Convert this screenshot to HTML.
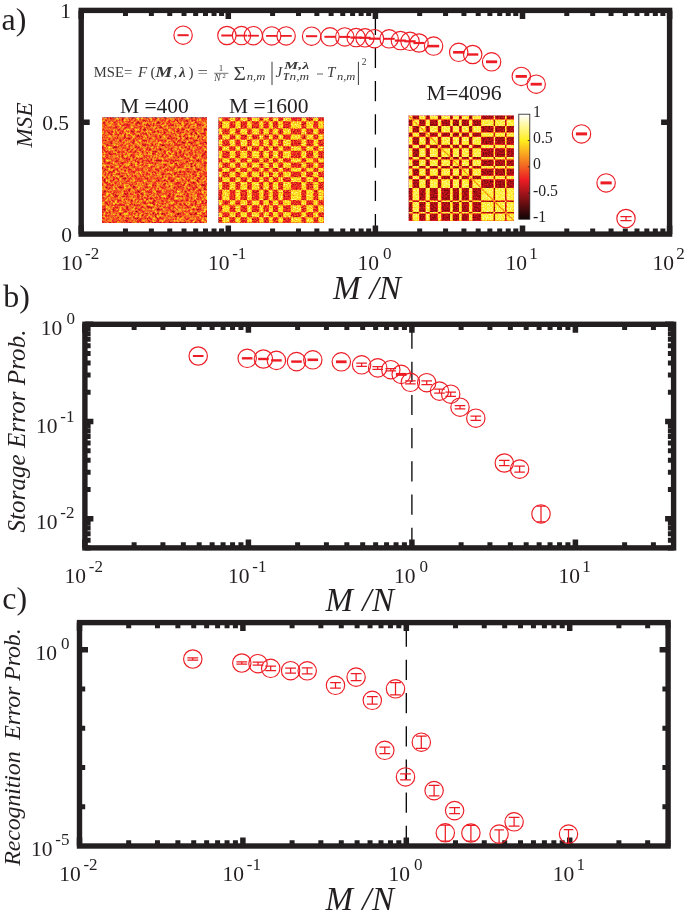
<!DOCTYPE html>
<html><head><meta charset="utf-8"><title>fig</title><style>html,body{margin:0;padding:0;background:#fff}svg{display:block;will-change:transform}text{font-family:"Liberation Serif",serif;fill:#231f20}.i{font-style:italic}.f text{fill:#3a3a3a}</style></head><body>
<svg width="685" height="919" viewBox="0 0 685 919">
<rect width="685" height="919" fill="#fff"/>
<defs>
<filter id="h1" x="0" y="0" width="1" height="1" color-interpolation-filters="sRGB"><feTurbulence type="fractalNoise" baseFrequency="0.45" numOctaves="2" seed="7" result="n"/><feColorMatrix in="n" type="matrix" values="1 0 0 0 0 1 0 0 0 0 1 0 0 0 0 0 0 0 0 1" result="g"/><feComposite in="SourceGraphic" in2="g" operator="arithmetic" k1="0" k2="1" k3="0.7" k4="-0.35" result="s"/><feComponentTransfer in="s" result="c"><feFuncR type="table" tableValues=".06 .36 .66 .93 .96 .98 1 1 1"/><feFuncG type="table" tableValues=".02 .03 .06 .11 .40 .68 .93 .96 1"/><feFuncB type="table" tableValues=".02 .04 .08 .14 .13 .12 .12 .56 1"/></feComponentTransfer><feGaussianBlur stdDeviation="0.45" edgeMode="duplicate"/></filter>
<filter id="h2" x="0" y="0" width="1" height="1" color-interpolation-filters="sRGB"><feTurbulence type="fractalNoise" baseFrequency="0.75" numOctaves="1" seed="11" result="n"/><feColorMatrix in="n" type="matrix" values="1 0 0 0 0 1 0 0 0 0 1 0 0 0 0 0 0 0 0 1" result="g"/><feComposite in="SourceGraphic" in2="g" operator="arithmetic" k1="0" k2="1" k3="0.62" k4="-0.31" result="s"/><feComponentTransfer in="s" result="c"><feFuncR type="table" tableValues=".06 .36 .66 .93 .96 .98 1 1 1"/><feFuncG type="table" tableValues=".02 .03 .06 .11 .40 .68 .93 .96 1"/><feFuncB type="table" tableValues=".02 .04 .08 .14 .13 .12 .12 .56 1"/></feComponentTransfer><feGaussianBlur stdDeviation="0.45" edgeMode="duplicate"/></filter>
<filter id="h3" x="0" y="0" width="1" height="1" color-interpolation-filters="sRGB"><feTurbulence type="fractalNoise" baseFrequency="0.7" numOctaves="1" seed="5" result="n"/><feColorMatrix in="n" type="matrix" values="1 0 0 0 0 1 0 0 0 0 1 0 0 0 0 0 0 0 0 1" result="g"/><feComposite in="SourceGraphic" in2="g" operator="arithmetic" k1="0" k2="1" k3="0.42" k4="-0.21" result="s"/><feComponentTransfer in="s" result="c"><feFuncR type="table" tableValues=".06 .36 .66 .93 .96 .98 1 1 1"/><feFuncG type="table" tableValues=".02 .03 .06 .11 .40 .68 .93 .96 1"/><feFuncB type="table" tableValues=".02 .04 .08 .14 .13 .12 .12 .56 1"/></feComponentTransfer><feGaussianBlur stdDeviation="0.45" edgeMode="duplicate"/></filter>
<linearGradient id="hot" x1="0" y1="1" x2="0" y2="0"><stop offset="0" stop-color="#0f0505"/><stop offset=".375" stop-color="#ed1c24"/><stop offset=".75" stop-color="#ffee1f"/><stop offset="1" stop-color="#fff"/></linearGradient>
</defs>
<path d="M375.40 234.10V10.40" stroke="#000" stroke-width="1.3" stroke-dasharray="20.2 13"/>
<g transform="translate(102.0 117.8)" filter="url(#h1)"><rect width="105" height="105" fill="rgb(137,137,137)"/><path fill-rule="evenodd" d="M0 3.5H105V10.8H0ZM3.5 0V105H10.8V0ZM0 16.6H105V21.6H0ZM16.6 0V105H21.6V0ZM0 28.4H105V33.0H0ZM28.4 0V105H33.0V0ZM0 40.5H105V44.6H0ZM40.5 0V105H44.6V0ZM0 50.0H105V54.0H0ZM50.0 0V105H54.0V0ZM0 59.5H105V64.3H0ZM59.5 0V105H64.3V0ZM0 72.0H105V82.5H0ZM72.0 0V105H82.5V0ZM0 87.5H105V94.5H0ZM87.5 0V105H94.5V0ZM0 99.5H105V105.0H0ZM99.5 0V105H105.0V0Z" fill="rgb(113,113,113)"/></g>
<g transform="translate(218.8 117.8)" filter="url(#h2)"><rect width="105" height="105" fill="rgb(186,186,186)"/><path fill-rule="evenodd" d="M0 3.5H105V10.8H0ZM3.5 0V105H10.8V0ZM0 16.6H105V21.6H0ZM16.6 0V105H21.6V0ZM0 28.4H105V33.0H0ZM28.4 0V105H33.0V0ZM0 40.5H105V44.6H0ZM40.5 0V105H44.6V0ZM0 50.0H105V54.0H0ZM50.0 0V105H54.0V0ZM0 59.5H105V64.3H0ZM59.5 0V105H64.3V0ZM0 72.0H105V82.5H0ZM72.0 0V105H82.5V0ZM0 87.5H105V94.5H0ZM87.5 0V105H94.5V0ZM0 99.5H105V105.0H0ZM99.5 0V105H105.0V0Z" fill="rgb(98,98,98)"/></g>
<g transform="translate(408.9 115.8)" filter="url(#h3)"><rect width="105" height="105" fill="rgb(203,203,203)"/><path fill-rule="evenodd" d="M0 3.6H105V10.3H0ZM3.6 0V105H10.3V0ZM0 16.7H105V20.9H0ZM16.7 0V105H20.9V0ZM0 28.9H105V32.4H0ZM28.9 0V105H32.4V0ZM0 41.2H105V43.8H0ZM41.2 0V105H43.8V0ZM0 50.2H105V52.8H0ZM50.2 0V105H52.8V0ZM0 60.0H105V63.5H0ZM60.0 0V105H63.5V0ZM0 72.3H105V84.7H0ZM72.3 0V105H84.7V0ZM0 86.2H105V96.2H0ZM86.2 0V105H96.2V0ZM0 97.6H105V105.0H0ZM97.6 0V105H105.0V0Z" fill="rgb(64,64,64)"/><path d="M0 0L105 105" stroke="rgb(140,140,140)" stroke-width="1.1"/></g>
<rect x="518.8" y="114.2" width="11" height="105" fill="url(#hot)" stroke="#231f20" stroke-width=".8"/>
<path d="M529.8 140.5h-2M529.8 166.8h-2M529.8 193.1h-2" stroke="#231f20" stroke-width=".8"/>
<text x="533" y="117.0" font-size="15.8">1</text>
<text x="533" y="142.8" font-size="15.8">0.5</text>
<text x="533" y="169.3" font-size="15.8">0</text>
<text x="533" y="195.9" font-size="15.8">-0.5</text>
<text x="533" y="221.9" font-size="15.8">-1</text>
<rect x="81.20" y="10.40" width="588.40" height="223.70" fill="none" stroke="#231f20" stroke-width="5.4"/>
<path d="M81.20 234.10v-8.50M81.20 10.40v8.50" stroke="#231f20" stroke-width="5.5"/>
<path d="M125.48 234.10v-5.70M125.48 10.40v5.70" stroke="#231f20" stroke-width="5.0"/>
<path d="M151.38 234.10v-5.70M151.38 10.40v5.70" stroke="#231f20" stroke-width="5.0"/>
<path d="M169.76 234.10v-5.70M169.76 10.40v5.70" stroke="#231f20" stroke-width="5.0"/>
<path d="M184.02 234.10v-5.70M184.02 10.40v5.70" stroke="#231f20" stroke-width="5.0"/>
<path d="M195.67 234.10v-5.70M195.67 10.40v5.70" stroke="#231f20" stroke-width="5.0"/>
<path d="M205.51 234.10v-5.70M205.51 10.40v5.70" stroke="#231f20" stroke-width="5.0"/>
<path d="M214.04 234.10v-5.70M214.04 10.40v5.70" stroke="#231f20" stroke-width="5.0"/>
<path d="M221.57 234.10v-5.70M221.57 10.40v5.70" stroke="#231f20" stroke-width="5.0"/>
<path d="M228.30 234.10v-8.50M228.30 10.40v8.50" stroke="#231f20" stroke-width="5.5"/>
<path d="M272.58 234.10v-5.70M272.58 10.40v5.70" stroke="#231f20" stroke-width="5.0"/>
<path d="M298.48 234.10v-5.70M298.48 10.40v5.70" stroke="#231f20" stroke-width="5.0"/>
<path d="M316.86 234.10v-5.70M316.86 10.40v5.70" stroke="#231f20" stroke-width="5.0"/>
<path d="M331.12 234.10v-5.70M331.12 10.40v5.70" stroke="#231f20" stroke-width="5.0"/>
<path d="M342.77 234.10v-5.70M342.77 10.40v5.70" stroke="#231f20" stroke-width="5.0"/>
<path d="M352.61 234.10v-5.70M352.61 10.40v5.70" stroke="#231f20" stroke-width="5.0"/>
<path d="M361.14 234.10v-5.70M361.14 10.40v5.70" stroke="#231f20" stroke-width="5.0"/>
<path d="M368.67 234.10v-5.70M368.67 10.40v5.70" stroke="#231f20" stroke-width="5.0"/>
<path d="M375.40 234.10v-8.50M375.40 10.40v8.50" stroke="#231f20" stroke-width="5.5"/>
<path d="M419.68 234.10v-5.70M419.68 10.40v5.70" stroke="#231f20" stroke-width="5.0"/>
<path d="M445.58 234.10v-5.70M445.58 10.40v5.70" stroke="#231f20" stroke-width="5.0"/>
<path d="M463.96 234.10v-5.70M463.96 10.40v5.70" stroke="#231f20" stroke-width="5.0"/>
<path d="M478.22 234.10v-5.70M478.22 10.40v5.70" stroke="#231f20" stroke-width="5.0"/>
<path d="M489.87 234.10v-5.70M489.87 10.40v5.70" stroke="#231f20" stroke-width="5.0"/>
<path d="M499.71 234.10v-5.70M499.71 10.40v5.70" stroke="#231f20" stroke-width="5.0"/>
<path d="M508.24 234.10v-5.70M508.24 10.40v5.70" stroke="#231f20" stroke-width="5.0"/>
<path d="M515.77 234.10v-5.70M515.77 10.40v5.70" stroke="#231f20" stroke-width="5.0"/>
<path d="M522.50 234.10v-8.50M522.50 10.40v8.50" stroke="#231f20" stroke-width="5.5"/>
<path d="M566.78 234.10v-5.70M566.78 10.40v5.70" stroke="#231f20" stroke-width="5.0"/>
<path d="M592.68 234.10v-5.70M592.68 10.40v5.70" stroke="#231f20" stroke-width="5.0"/>
<path d="M611.06 234.10v-5.70M611.06 10.40v5.70" stroke="#231f20" stroke-width="5.0"/>
<path d="M625.32 234.10v-5.70M625.32 10.40v5.70" stroke="#231f20" stroke-width="5.0"/>
<path d="M636.97 234.10v-5.70M636.97 10.40v5.70" stroke="#231f20" stroke-width="5.0"/>
<path d="M646.81 234.10v-5.70M646.81 10.40v5.70" stroke="#231f20" stroke-width="5.0"/>
<path d="M655.34 234.10v-5.70M655.34 10.40v5.70" stroke="#231f20" stroke-width="5.0"/>
<path d="M662.87 234.10v-5.70M662.87 10.40v5.70" stroke="#231f20" stroke-width="5.0"/>
<path d="M669.60 234.10v-8.50M669.60 10.40v8.50" stroke="#231f20" stroke-width="5.5"/>
<path d="M81.20 122.25h8.50M669.60 122.25h-8.50" stroke="#231f20" stroke-width="5.5"/>
<text x="71" y="17.8" font-size="21.5" text-anchor="end">1</text>
<text x="69" y="129.7" font-size="21.5" text-anchor="end">0.5</text>
<text x="72" y="241.5" font-size="21.5" text-anchor="end">0</text>
<text x="60.88" y="269.60" font-size="21.5">10</text><text x="85.08" y="258.50" font-size="17">-2</text>
<text x="207.98" y="269.60" font-size="21.5">10</text><text x="232.18" y="258.50" font-size="17">-1</text>
<text x="357.48" y="269.60" font-size="21.5">10</text><text x="383.05" y="258.50" font-size="17">0</text>
<text x="505.48" y="269.60" font-size="21.5">10</text><text x="529.25" y="258.50" font-size="17">1</text>
<text x="652.58" y="269.60" font-size="21.5">10</text><text x="676.35" y="258.50" font-size="17">2</text>
<text class="i" x="333" y="299.2" font-size="33" textLength="68" lengthAdjust="spacing">M /N</text>
<text class="i" transform="translate(32 147.5) rotate(-90)" font-size="23" textLength="45" lengthAdjust="spacing">MSE</text>
<text x="1.5" y="29.6" font-size="32">a)</text>
<text x="120" y="113" font-size="21.5">M =400</text>
<text x="229" y="113" font-size="21.5">M =1600</text>
<text x="426.5" y="99.5" font-size="21.8">M=4096</text>
<circle cx="183.1" cy="35.2" r="9.2" fill="none" stroke="#ed1c24" stroke-width="1.15"/><path d="M177.5 35.2h11.2" stroke="#ed1c24" stroke-width="2.0"/>
<circle cx="226.9" cy="35.5" r="9.2" fill="none" stroke="#ed1c24" stroke-width="1.15"/><path d="M221.3 35.5h11.2" stroke="#ed1c24" stroke-width="2.0"/>
<circle cx="241.5" cy="35.6" r="9.2" fill="none" stroke="#ed1c24" stroke-width="1.15"/><path d="M235.9 35.6h11.2" stroke="#ed1c24" stroke-width="1.8"/>
<circle cx="253.3" cy="35.7" r="9.2" fill="none" stroke="#ed1c24" stroke-width="1.15"/><path d="M247.7 35.7h11.2" stroke="#ed1c24" stroke-width="1.8"/>
<circle cx="271.7" cy="35.9" r="9.2" fill="none" stroke="#ed1c24" stroke-width="1.15"/><path d="M266.1 35.9h11.2" stroke="#ed1c24" stroke-width="1.8"/>
<circle cx="286.1" cy="35.9" r="9.2" fill="none" stroke="#ed1c24" stroke-width="1.15"/><path d="M280.5 35.9h11.2" stroke="#ed1c24" stroke-width="1.8"/>
<circle cx="311.6" cy="36.2" r="9.2" fill="none" stroke="#ed1c24" stroke-width="1.15"/><path d="M306.0 36.2h11.2" stroke="#ed1c24" stroke-width="2.0"/>
<circle cx="330.0" cy="36.8" r="9.2" fill="none" stroke="#ed1c24" stroke-width="1.15"/><path d="M324.4 36.8h11.2" stroke="#ed1c24" stroke-width="2.0"/>
<circle cx="344.8" cy="36.9" r="9.2" fill="none" stroke="#ed1c24" stroke-width="1.15"/><path d="M339.2 36.9h11.2" stroke="#ed1c24" stroke-width="2.0"/>
<circle cx="356.1" cy="37.6" r="9.2" fill="none" stroke="#ed1c24" stroke-width="1.15"/><path d="M350.5 37.6h11.2" stroke="#ed1c24" stroke-width="2.2"/>
<circle cx="365.0" cy="37.8" r="9.2" fill="none" stroke="#ed1c24" stroke-width="1.15"/><path d="M359.4 37.8h11.2" stroke="#ed1c24" stroke-width="2.2"/>
<circle cx="374.5" cy="38.7" r="9.2" fill="none" stroke="#ed1c24" stroke-width="1.15"/><path d="M368.9 38.7h11.2" stroke="#ed1c24" stroke-width="2.2"/>
<circle cx="389.1" cy="38.8" r="9.2" fill="none" stroke="#ed1c24" stroke-width="1.15"/><path d="M383.5 38.8h11.2" stroke="#ed1c24" stroke-width="2.0"/>
<circle cx="400.4" cy="40.6" r="9.2" fill="none" stroke="#ed1c24" stroke-width="1.15"/><path d="M394.8 40.6h11.2" stroke="#ed1c24" stroke-width="2.2"/>
<circle cx="410.0" cy="41.3" r="9.2" fill="none" stroke="#ed1c24" stroke-width="1.15"/><path d="M404.4 41.3h11.2" stroke="#ed1c24" stroke-width="2.2"/>
<circle cx="419.0" cy="43.0" r="9.2" fill="none" stroke="#ed1c24" stroke-width="1.15"/><path d="M413.4 43.0h11.2" stroke="#ed1c24" stroke-width="2.2"/>
<circle cx="433.6" cy="46.1" r="9.2" fill="none" stroke="#ed1c24" stroke-width="1.15"/><path d="M428.0 46.1h11.2" stroke="#ed1c24" stroke-width="2.6"/>
<circle cx="458.7" cy="52.3" r="9.2" fill="none" stroke="#ed1c24" stroke-width="1.15"/><path d="M453.1 52.3h11.2" stroke="#ed1c24" stroke-width="2.6"/>
<circle cx="472.7" cy="54.5" r="9.2" fill="none" stroke="#ed1c24" stroke-width="1.15"/><path d="M467.1 54.5h11.2" stroke="#ed1c24" stroke-width="2.4"/>
<circle cx="491.6" cy="61.8" r="9.2" fill="none" stroke="#ed1c24" stroke-width="1.15"/><path d="M486.0 61.8h11.2" stroke="#ed1c24" stroke-width="2.8"/>
<circle cx="521.3" cy="76.4" r="9.2" fill="none" stroke="#ed1c24" stroke-width="1.15"/><path d="M515.7 76.4h11.2" stroke="#ed1c24" stroke-width="2.8"/>
<circle cx="536.2" cy="84.2" r="9.2" fill="none" stroke="#ed1c24" stroke-width="1.15"/><path d="M530.6 84.2h11.2" stroke="#ed1c24" stroke-width="2.8"/>
<circle cx="581.5" cy="133.9" r="9.2" fill="none" stroke="#ed1c24" stroke-width="1.15"/><path d="M575.9 133.9h11.2" stroke="#ed1c24" stroke-width="3.0"/>
<circle cx="606.1" cy="182.9" r="9.2" fill="none" stroke="#ed1c24" stroke-width="1.15"/><path d="M600.5 182.9h11.2" stroke="#ed1c24" stroke-width="3.0"/>
<circle cx="626.0" cy="218.5" r="9.2" fill="none" stroke="#ed1c24" stroke-width="1.15"/><path d="M620.4 216.5h11.2M620.4 220.5h11.2M626.0 216.5v4.0" stroke="#ed1c24" stroke-width="1.25" fill="none"/>
<path d="M411.90 547.90V324.30" stroke="#000" stroke-width="1.3" stroke-dasharray="20.2 13"/>
<rect x="84.90" y="324.30" width="588.70" height="223.60" fill="none" stroke="#231f20" stroke-width="5.4"/>
<path d="M84.90 547.90v-8.50M84.90 324.30v8.50" stroke="#231f20" stroke-width="5.5"/>
<path d="M134.12 547.90v-5.70M134.12 324.30v5.70" stroke="#231f20" stroke-width="5.0"/>
<path d="M162.91 547.90v-5.70M162.91 324.30v5.70" stroke="#231f20" stroke-width="5.0"/>
<path d="M183.34 547.90v-5.70M183.34 324.30v5.70" stroke="#231f20" stroke-width="5.0"/>
<path d="M199.18 547.90v-5.70M199.18 324.30v5.70" stroke="#231f20" stroke-width="5.0"/>
<path d="M212.13 547.90v-5.70M212.13 324.30v5.70" stroke="#231f20" stroke-width="5.0"/>
<path d="M223.07 547.90v-5.70M223.07 324.30v5.70" stroke="#231f20" stroke-width="5.0"/>
<path d="M232.56 547.90v-5.70M232.56 324.30v5.70" stroke="#231f20" stroke-width="5.0"/>
<path d="M240.92 547.90v-5.70M240.92 324.30v5.70" stroke="#231f20" stroke-width="5.0"/>
<path d="M248.40 547.90v-8.50M248.40 324.30v8.50" stroke="#231f20" stroke-width="5.5"/>
<path d="M297.62 547.90v-5.70M297.62 324.30v5.70" stroke="#231f20" stroke-width="5.0"/>
<path d="M326.41 547.90v-5.70M326.41 324.30v5.70" stroke="#231f20" stroke-width="5.0"/>
<path d="M346.84 547.90v-5.70M346.84 324.30v5.70" stroke="#231f20" stroke-width="5.0"/>
<path d="M362.68 547.90v-5.70M362.68 324.30v5.70" stroke="#231f20" stroke-width="5.0"/>
<path d="M375.63 547.90v-5.70M375.63 324.30v5.70" stroke="#231f20" stroke-width="5.0"/>
<path d="M386.57 547.90v-5.70M386.57 324.30v5.70" stroke="#231f20" stroke-width="5.0"/>
<path d="M396.06 547.90v-5.70M396.06 324.30v5.70" stroke="#231f20" stroke-width="5.0"/>
<path d="M404.42 547.90v-5.70M404.42 324.30v5.70" stroke="#231f20" stroke-width="5.0"/>
<path d="M411.90 547.90v-8.50M411.90 324.30v8.50" stroke="#231f20" stroke-width="5.5"/>
<path d="M461.12 547.90v-5.70M461.12 324.30v5.70" stroke="#231f20" stroke-width="5.0"/>
<path d="M489.91 547.90v-5.70M489.91 324.30v5.70" stroke="#231f20" stroke-width="5.0"/>
<path d="M510.34 547.90v-5.70M510.34 324.30v5.70" stroke="#231f20" stroke-width="5.0"/>
<path d="M526.18 547.90v-5.70M526.18 324.30v5.70" stroke="#231f20" stroke-width="5.0"/>
<path d="M539.13 547.90v-5.70M539.13 324.30v5.70" stroke="#231f20" stroke-width="5.0"/>
<path d="M550.07 547.90v-5.70M550.07 324.30v5.70" stroke="#231f20" stroke-width="5.0"/>
<path d="M559.56 547.90v-5.70M559.56 324.30v5.70" stroke="#231f20" stroke-width="5.0"/>
<path d="M567.92 547.90v-5.70M567.92 324.30v5.70" stroke="#231f20" stroke-width="5.0"/>
<path d="M575.40 547.90v-8.50M575.40 324.30v8.50" stroke="#231f20" stroke-width="5.5"/>
<path d="M624.62 547.90v-5.70M624.62 324.30v5.70" stroke="#231f20" stroke-width="5.0"/>
<path d="M653.41 547.90v-5.70M653.41 324.30v5.70" stroke="#231f20" stroke-width="5.0"/>
<path d="M84.90 547.90h5.70M673.60 547.90h-5.70" stroke="#231f20" stroke-width="5.0"/>
<path d="M84.90 540.21h5.70M673.60 540.21h-5.70" stroke="#231f20" stroke-width="5.0"/>
<path d="M84.90 533.70h5.70M673.60 533.70h-5.70" stroke="#231f20" stroke-width="5.0"/>
<path d="M84.90 528.06h5.70M673.60 528.06h-5.70" stroke="#231f20" stroke-width="5.0"/>
<path d="M84.90 523.09h5.70M673.60 523.09h-5.70" stroke="#231f20" stroke-width="5.0"/>
<path d="M84.90 518.65h8.50M673.60 518.65h-8.50" stroke="#231f20" stroke-width="5.5"/>
<path d="M84.90 489.40h5.70M673.60 489.40h-5.70" stroke="#231f20" stroke-width="5.0"/>
<path d="M84.90 472.28h5.70M673.60 472.28h-5.70" stroke="#231f20" stroke-width="5.0"/>
<path d="M84.90 460.14h5.70M673.60 460.14h-5.70" stroke="#231f20" stroke-width="5.0"/>
<path d="M84.90 450.73h5.70M673.60 450.73h-5.70" stroke="#231f20" stroke-width="5.0"/>
<path d="M84.90 443.03h5.70M673.60 443.03h-5.70" stroke="#231f20" stroke-width="5.0"/>
<path d="M84.90 436.53h5.70M673.60 436.53h-5.70" stroke="#231f20" stroke-width="5.0"/>
<path d="M84.90 430.89h5.70M673.60 430.89h-5.70" stroke="#231f20" stroke-width="5.0"/>
<path d="M84.90 425.92h5.70M673.60 425.92h-5.70" stroke="#231f20" stroke-width="5.0"/>
<path d="M84.90 421.47h8.50M673.60 421.47h-8.50" stroke="#231f20" stroke-width="5.5"/>
<path d="M84.90 392.22h5.70M673.60 392.22h-5.70" stroke="#231f20" stroke-width="5.0"/>
<path d="M84.90 375.11h5.70M673.60 375.11h-5.70" stroke="#231f20" stroke-width="5.0"/>
<path d="M84.90 362.97h5.70M673.60 362.97h-5.70" stroke="#231f20" stroke-width="5.0"/>
<path d="M84.90 353.55h5.70M673.60 353.55h-5.70" stroke="#231f20" stroke-width="5.0"/>
<path d="M84.90 345.86h5.70M673.60 345.86h-5.70" stroke="#231f20" stroke-width="5.0"/>
<path d="M84.90 339.35h5.70M673.60 339.35h-5.70" stroke="#231f20" stroke-width="5.0"/>
<path d="M84.90 333.72h5.70M673.60 333.72h-5.70" stroke="#231f20" stroke-width="5.0"/>
<path d="M84.90 328.75h5.70M673.60 328.75h-5.70" stroke="#231f20" stroke-width="5.0"/>
<path d="M84.90 324.30h8.50M673.60 324.30h-8.50" stroke="#231f20" stroke-width="5.5"/>
<text x="64.58" y="582.60" font-size="21.5">10</text><text x="88.78" y="571.50" font-size="17">-2</text>
<text x="228.08" y="582.60" font-size="21.5">10</text><text x="252.28" y="571.50" font-size="17">-1</text>
<text x="393.98" y="582.60" font-size="21.5">10</text><text x="419.55" y="571.50" font-size="17">0</text>
<text x="558.38" y="582.60" font-size="21.5">10</text><text x="582.15" y="571.50" font-size="17">1</text>
<text x="40.82" y="334.70" font-size="21.5">10</text><text x="66.39" y="323.60" font-size="17">0</text>
<text x="36.02" y="432.87" font-size="21.5">10</text><text x="60.22" y="421.77" font-size="17">-1</text>
<text x="36.02" y="528.85" font-size="21.5">10</text><text x="60.22" y="517.75" font-size="17">-2</text>
<text class="i" x="325.5" y="611.3" font-size="33" textLength="68.5" lengthAdjust="spacing">M /N</text>
<text class="i" transform="translate(25 532.5) rotate(-90)" font-size="25" textLength="203" lengthAdjust="spacing">Storage Error Prob.</text>
<text x="3.2" y="307" font-size="32">b)</text>
<circle cx="198.2" cy="356.0" r="9.2" fill="none" stroke="#ed1c24" stroke-width="1.15"/><path d="M192.9 356.0h10.6" stroke="#ed1c24" stroke-width="2.0"/>
<circle cx="247.2" cy="358.3" r="9.2" fill="none" stroke="#ed1c24" stroke-width="1.15"/><path d="M241.9 358.3h10.6" stroke="#ed1c24" stroke-width="2.4"/>
<circle cx="263.4" cy="359.0" r="9.2" fill="none" stroke="#ed1c24" stroke-width="1.15"/><path d="M258.1 359.0h10.6" stroke="#ed1c24" stroke-width="2.4"/>
<circle cx="276.4" cy="360.4" r="9.2" fill="none" stroke="#ed1c24" stroke-width="1.15"/><path d="M271.1 360.4h10.6" stroke="#ed1c24" stroke-width="2.4"/>
<circle cx="296.5" cy="361.6" r="9.2" fill="none" stroke="#ed1c24" stroke-width="1.15"/><path d="M291.2 361.6h10.6" stroke="#ed1c24" stroke-width="2.4"/>
<circle cx="312.8" cy="359.8" r="9.2" fill="none" stroke="#ed1c24" stroke-width="1.15"/><path d="M307.5 359.8h10.6" stroke="#ed1c24" stroke-width="2.6"/>
<circle cx="341.3" cy="361.8" r="9.2" fill="none" stroke="#ed1c24" stroke-width="1.15"/><path d="M336.0 361.8h10.6" stroke="#ed1c24" stroke-width="2.8"/>
<circle cx="361.6" cy="364.8" r="9.2" fill="none" stroke="#ed1c24" stroke-width="1.15"/><path d="M356.3 363.2h10.6M356.3 366.4h10.6M361.6 363.2v3.2" stroke="#ed1c24" stroke-width="1.25" fill="none"/>
<circle cx="377.7" cy="367.9" r="9.2" fill="none" stroke="#ed1c24" stroke-width="1.15"/><path d="M372.4 366.5h10.6M372.4 369.3h10.6M377.7 366.5v2.8" stroke="#ed1c24" stroke-width="1.25" fill="none"/>
<circle cx="390.8" cy="369.7" r="9.2" fill="none" stroke="#ed1c24" stroke-width="1.15"/><path d="M385.5 368.5h10.6M385.5 370.9h10.6M390.8 368.5v2.4" stroke="#ed1c24" stroke-width="1.25" fill="none"/>
<circle cx="401.2" cy="374.4" r="9.2" fill="none" stroke="#ed1c24" stroke-width="1.15"/><path d="M395.9 374.4h10.6" stroke="#ed1c24" stroke-width="3.0"/>
<circle cx="410.4" cy="382.3" r="9.2" fill="none" stroke="#ed1c24" stroke-width="1.15"/><path d="M405.1 380.8h10.6M405.1 383.8h10.6M410.4 380.8v3.0" stroke="#ed1c24" stroke-width="1.25" fill="none"/>
<circle cx="426.7" cy="382.7" r="9.2" fill="none" stroke="#ed1c24" stroke-width="1.15"/><path d="M421.4 380.8h10.6M421.4 384.6h10.6M426.7 380.8v3.8" stroke="#ed1c24" stroke-width="1.25" fill="none"/>
<circle cx="439.5" cy="391.1" r="9.2" fill="none" stroke="#ed1c24" stroke-width="1.15"/><path d="M434.2 389.2h10.6M434.2 393.0h10.6M439.5 389.2v3.8" stroke="#ed1c24" stroke-width="1.25" fill="none"/>
<circle cx="450.7" cy="394.2" r="9.2" fill="none" stroke="#ed1c24" stroke-width="1.15"/><path d="M445.4 392.0h10.6M445.4 396.4h10.6M450.7 392.0v4.4" stroke="#ed1c24" stroke-width="1.25" fill="none"/>
<circle cx="460.0" cy="407.2" r="9.2" fill="none" stroke="#ed1c24" stroke-width="1.15"/><path d="M454.7 405.5h10.6M454.7 408.9h10.6M460.0 405.5v3.4" stroke="#ed1c24" stroke-width="1.25" fill="none"/>
<circle cx="475.8" cy="418.2" r="9.2" fill="none" stroke="#ed1c24" stroke-width="1.15"/><path d="M470.5 416.0h10.6M470.5 420.4h10.6M475.8 416.0v4.4" stroke="#ed1c24" stroke-width="1.25" fill="none"/>
<circle cx="504.3" cy="463.0" r="9.2" fill="none" stroke="#ed1c24" stroke-width="1.15"/><path d="M499.0 460.4h10.6M499.0 465.6h10.6M504.3 460.4v5.2" stroke="#ed1c24" stroke-width="1.25" fill="none"/>
<circle cx="519.6" cy="469.1" r="9.2" fill="none" stroke="#ed1c24" stroke-width="1.15"/><path d="M514.3 466.1h10.6M514.3 472.1h10.6M519.6 466.1v6.0" stroke="#ed1c24" stroke-width="1.25" fill="none"/>
<circle cx="541.0" cy="513.9" r="9.2" fill="none" stroke="#ed1c24" stroke-width="1.15"/><path d="M536.8 506.0h8.5M536.8 521.8h8.5M541.0 506.0v15.8" stroke="#ed1c24" stroke-width="1.25" fill="none"/>
<path d="M406.30 846.00V622.60" stroke="#000" stroke-width="1.3" stroke-dasharray="20.2 13"/>
<rect x="79.50" y="622.60" width="588.60" height="223.40" fill="none" stroke="#231f20" stroke-width="5.4"/>
<path d="M79.50 846.00v-8.50M79.50 622.60v8.50" stroke="#231f20" stroke-width="5.5"/>
<path d="M128.69 846.00v-5.70M128.69 622.60v5.70" stroke="#231f20" stroke-width="5.0"/>
<path d="M157.46 846.00v-5.70M157.46 622.60v5.70" stroke="#231f20" stroke-width="5.0"/>
<path d="M177.88 846.00v-5.70M177.88 622.60v5.70" stroke="#231f20" stroke-width="5.0"/>
<path d="M193.71 846.00v-5.70M193.71 622.60v5.70" stroke="#231f20" stroke-width="5.0"/>
<path d="M206.65 846.00v-5.70M206.65 622.60v5.70" stroke="#231f20" stroke-width="5.0"/>
<path d="M217.59 846.00v-5.70M217.59 622.60v5.70" stroke="#231f20" stroke-width="5.0"/>
<path d="M227.06 846.00v-5.70M227.06 622.60v5.70" stroke="#231f20" stroke-width="5.0"/>
<path d="M235.42 846.00v-5.70M235.42 622.60v5.70" stroke="#231f20" stroke-width="5.0"/>
<path d="M242.90 846.00v-8.50M242.90 622.60v8.50" stroke="#231f20" stroke-width="5.5"/>
<path d="M292.09 846.00v-5.70M292.09 622.60v5.70" stroke="#231f20" stroke-width="5.0"/>
<path d="M320.86 846.00v-5.70M320.86 622.60v5.70" stroke="#231f20" stroke-width="5.0"/>
<path d="M341.28 846.00v-5.70M341.28 622.60v5.70" stroke="#231f20" stroke-width="5.0"/>
<path d="M357.11 846.00v-5.70M357.11 622.60v5.70" stroke="#231f20" stroke-width="5.0"/>
<path d="M370.05 846.00v-5.70M370.05 622.60v5.70" stroke="#231f20" stroke-width="5.0"/>
<path d="M380.99 846.00v-5.70M380.99 622.60v5.70" stroke="#231f20" stroke-width="5.0"/>
<path d="M390.46 846.00v-5.70M390.46 622.60v5.70" stroke="#231f20" stroke-width="5.0"/>
<path d="M398.82 846.00v-5.70M398.82 622.60v5.70" stroke="#231f20" stroke-width="5.0"/>
<path d="M406.30 846.00v-8.50M406.30 622.60v8.50" stroke="#231f20" stroke-width="5.5"/>
<path d="M455.49 846.00v-5.70M455.49 622.60v5.70" stroke="#231f20" stroke-width="5.0"/>
<path d="M484.26 846.00v-5.70M484.26 622.60v5.70" stroke="#231f20" stroke-width="5.0"/>
<path d="M504.68 846.00v-5.70M504.68 622.60v5.70" stroke="#231f20" stroke-width="5.0"/>
<path d="M520.51 846.00v-5.70M520.51 622.60v5.70" stroke="#231f20" stroke-width="5.0"/>
<path d="M533.45 846.00v-5.70M533.45 622.60v5.70" stroke="#231f20" stroke-width="5.0"/>
<path d="M544.39 846.00v-5.70M544.39 622.60v5.70" stroke="#231f20" stroke-width="5.0"/>
<path d="M553.86 846.00v-5.70M553.86 622.60v5.70" stroke="#231f20" stroke-width="5.0"/>
<path d="M562.22 846.00v-5.70M562.22 622.60v5.70" stroke="#231f20" stroke-width="5.0"/>
<path d="M569.70 846.00v-8.50M569.70 622.60v8.50" stroke="#231f20" stroke-width="5.5"/>
<path d="M618.89 846.00v-5.70M618.89 622.60v5.70" stroke="#231f20" stroke-width="5.0"/>
<path d="M647.66 846.00v-5.70M647.66 622.60v5.70" stroke="#231f20" stroke-width="5.0"/>
<path d="M668.08 846.00v-5.70M668.08 622.60v5.70" stroke="#231f20" stroke-width="5.0"/>
<path d="M79.50 649.80h8.50M668.10 649.80h-8.50" stroke="#231f20" stroke-width="5.5"/>
<path d="M79.50 689.04h5.70M668.10 689.04h-5.70" stroke="#231f20" stroke-width="5.0"/>
<path d="M79.50 728.28h5.70M668.10 728.28h-5.70" stroke="#231f20" stroke-width="5.0"/>
<path d="M79.50 767.52h5.70M668.10 767.52h-5.70" stroke="#231f20" stroke-width="5.0"/>
<path d="M79.50 806.76h5.70M668.10 806.76h-5.70" stroke="#231f20" stroke-width="5.0"/>
<text x="59.18" y="881.20" font-size="21.5">10</text><text x="83.38" y="870.10" font-size="17">-2</text>
<text x="222.58" y="881.20" font-size="21.5">10</text><text x="246.78" y="870.10" font-size="17">-1</text>
<text x="388.38" y="881.20" font-size="21.5">10</text><text x="413.95" y="870.10" font-size="17">0</text>
<text x="552.68" y="881.20" font-size="21.5">10</text><text x="576.45" y="870.10" font-size="17">1</text>
<text x="35.52" y="660.00" font-size="21.5">10</text><text x="61.09" y="648.90" font-size="17">0</text>
<text x="31.02" y="856.40" font-size="21.5">10</text><text x="55.22" y="845.30" font-size="17">-5</text>
<text class="i" x="325.5" y="909.9" font-size="33" textLength="68.5" lengthAdjust="spacing">M /N</text>
<text class="i" transform="translate(19.6 865.8) rotate(-90)" font-size="24" textLength="237.5" lengthAdjust="spacing" xml:space="preserve">Recognition  Error Prob.</text>
<text x="2.3" y="609.3" font-size="32">c)</text>
<circle cx="192.8" cy="659.0" r="9.2" fill="none" stroke="#ed1c24" stroke-width="1.15"/><path d="M187.4 657.8h10.8M187.4 660.2h10.8M192.8 657.8v2.4" stroke="#ed1c24" stroke-width="1.25" fill="none"/>
<circle cx="241.8" cy="663.0" r="9.2" fill="none" stroke="#ed1c24" stroke-width="1.15"/><path d="M236.4 661.8h10.8M236.4 664.2h10.8M241.8 661.8v2.4" stroke="#ed1c24" stroke-width="1.25" fill="none"/>
<circle cx="258.0" cy="663.7" r="9.2" fill="none" stroke="#ed1c24" stroke-width="1.15"/><path d="M252.6 662.2h10.8M252.6 665.2h10.8M258.0 662.2v3.0" stroke="#ed1c24" stroke-width="1.25" fill="none"/>
<circle cx="270.7" cy="668.3" r="9.2" fill="none" stroke="#ed1c24" stroke-width="1.15"/><path d="M265.3 666.0h10.8M265.3 670.6h10.8M270.7 666.0v4.6" stroke="#ed1c24" stroke-width="1.25" fill="none"/>
<circle cx="290.6" cy="670.7" r="9.2" fill="none" stroke="#ed1c24" stroke-width="1.15"/><path d="M285.2 668.2h10.8M285.2 673.2h10.8M290.6 668.2v5.0" stroke="#ed1c24" stroke-width="1.25" fill="none"/>
<circle cx="307.2" cy="670.8" r="9.2" fill="none" stroke="#ed1c24" stroke-width="1.15"/><path d="M301.8 667.8h10.8M301.8 673.8h10.8M307.2 667.8v6.0" stroke="#ed1c24" stroke-width="1.25" fill="none"/>
<circle cx="335.5" cy="685.3" r="9.2" fill="none" stroke="#ed1c24" stroke-width="1.15"/><path d="M330.1 682.5h10.8M330.1 688.1h10.8M335.5 682.5v5.6" stroke="#ed1c24" stroke-width="1.25" fill="none"/>
<circle cx="356.1" cy="677.1" r="9.2" fill="none" stroke="#ed1c24" stroke-width="1.15"/><path d="M350.7 673.6h10.8M350.7 680.6h10.8M356.1 673.6v7.0" stroke="#ed1c24" stroke-width="1.25" fill="none"/>
<circle cx="372.3" cy="700.3" r="9.2" fill="none" stroke="#ed1c24" stroke-width="1.15"/><path d="M366.9 696.5h10.8M366.9 704.1h10.8M372.3 696.5v7.6" stroke="#ed1c24" stroke-width="1.25" fill="none"/>
<circle cx="395.5" cy="688.8" r="9.2" fill="none" stroke="#ed1c24" stroke-width="1.15"/><path d="M390.1 682.7h10.8M390.1 694.9h10.8M395.5 682.7v12.2" stroke="#ed1c24" stroke-width="1.25" fill="none"/>
<circle cx="384.8" cy="750.3" r="9.2" fill="none" stroke="#ed1c24" stroke-width="1.15"/><path d="M379.4 747.1h10.8M379.4 753.5h10.8M384.8 747.1v6.4" stroke="#ed1c24" stroke-width="1.25" fill="none"/>
<circle cx="405.5" cy="776.9" r="9.2" fill="none" stroke="#ed1c24" stroke-width="1.15"/><path d="M400.1 773.9h10.8M400.1 779.9h10.8M405.5 773.9v6.0" stroke="#ed1c24" stroke-width="1.25" fill="none"/>
<circle cx="421.3" cy="742.2" r="9.2" fill="none" stroke="#ed1c24" stroke-width="1.15"/><path d="M415.9 736.1h10.8M415.9 748.3h10.8M421.3 736.1v12.2" stroke="#ed1c24" stroke-width="1.25" fill="none"/>
<circle cx="434.1" cy="790.6" r="9.2" fill="none" stroke="#ed1c24" stroke-width="1.15"/><path d="M428.7 785.3h10.8M428.7 795.9h10.8M434.1 785.3v10.6" stroke="#ed1c24" stroke-width="1.25" fill="none"/>
<circle cx="454.6" cy="810.6" r="9.2" fill="none" stroke="#ed1c24" stroke-width="1.15"/><path d="M449.2 807.6h10.8M449.2 813.6h10.8M454.6 807.6v6.0" stroke="#ed1c24" stroke-width="1.25" fill="none"/>
<circle cx="445.3" cy="832.8" r="9.2" fill="none" stroke="#ed1c24" stroke-width="1.15"/><path d="M440.6 825.2h9.5M445.3 825.2v15.8M440.6 841.0h9.5" stroke="#ed1c24" stroke-width="1.25" fill="none"/>
<circle cx="470.9" cy="833.0" r="9.2" fill="none" stroke="#ed1c24" stroke-width="1.15"/><path d="M466.1 825.4h9.5M470.9 825.4v15.8M466.1 841.2h9.5" stroke="#ed1c24" stroke-width="1.25" fill="none"/>
<circle cx="499.1" cy="834.1" r="9.2" fill="none" stroke="#ed1c24" stroke-width="1.15"/><path d="M494.4 829.9h9.5M499.1 829.9v13.2" stroke="#ed1c24" stroke-width="1.25" fill="none"/>
<circle cx="514.1" cy="821.8" r="9.2" fill="none" stroke="#ed1c24" stroke-width="1.15"/><path d="M508.7 817.4h10.8M508.7 826.2h10.8M514.1 817.4v8.8" stroke="#ed1c24" stroke-width="1.25" fill="none"/>
<circle cx="568.5" cy="834.1" r="9.2" fill="none" stroke="#ed1c24" stroke-width="1.15"/><path d="M563.8 829.5h9.5M568.5 829.5v13.6" stroke="#ed1c24" stroke-width="1.25" fill="none"/>
<g class="f">
<text x="93.8" y="76.5" font-size="14" textLength="38.4" lengthAdjust="spacingAndGlyphs">MSE=</text>
<text x="138" y="76.5" font-size="15" class="i">F</text>
<text x="150.4" y="76.5" font-size="15">(</text>
<text x="155.3" y="76.5" font-size="15" class="i" font-weight="bold" textLength="17" lengthAdjust="spacingAndGlyphs">M</text>
<text x="173.4" y="76.5" font-size="15">,</text>
<text x="179" y="76.5" font-size="15" class="i" font-weight="bold">λ</text>
<text x="188.6" y="76.5" font-size="15">)</text>
<text x="197.4" y="76.5" font-size="15" textLength="10.4" lengthAdjust="spacingAndGlyphs">=</text>
<text x="221" y="70.8" font-size="9" text-anchor="middle">1</text>
<path d="M214.2 73.3h14.2" stroke="#3a3a3a" stroke-width=".7"/>
<text x="214.3" y="81" font-size="9.5" class="i">N</text><text x="222.6" y="77.6" font-size="6.5">2</text>
<text x="233.4" y="80" font-size="18" textLength="12.4" lengthAdjust="spacingAndGlyphs">Σ</text>
<text x="246.8" y="79.8" font-size="10.5" class="i" textLength="18.6" lengthAdjust="spacingAndGlyphs">n,m</text>
<path d="M272 61.8V85M358.4 61.8V85" stroke="#3a3a3a" stroke-width="1"/>
<text x="275.4" y="76.5" font-size="15" class="i">J</text>
<text x="284" y="69.2" font-size="10" class="i" font-weight="bold" textLength="25.3" lengthAdjust="spacingAndGlyphs">M,λ</text>
<text x="283" y="80.4" font-size="10" class="i" font-weight="bold">T</text><text x="289.6" y="80.4" font-size="10.5" class="i" textLength="19.6" lengthAdjust="spacingAndGlyphs">n,m</text>
<path d="M317 74h6" stroke="#3a3a3a" stroke-width=".8"/>
<text x="327" y="76.5" font-size="15" class="i">T</text>
<text x="336.9" y="79.8" font-size="10.5" class="i" textLength="18.4" lengthAdjust="spacingAndGlyphs">n,m</text>
<text x="361.7" y="64.8" font-size="9.5">2</text>
</g>
</svg></body></html>
